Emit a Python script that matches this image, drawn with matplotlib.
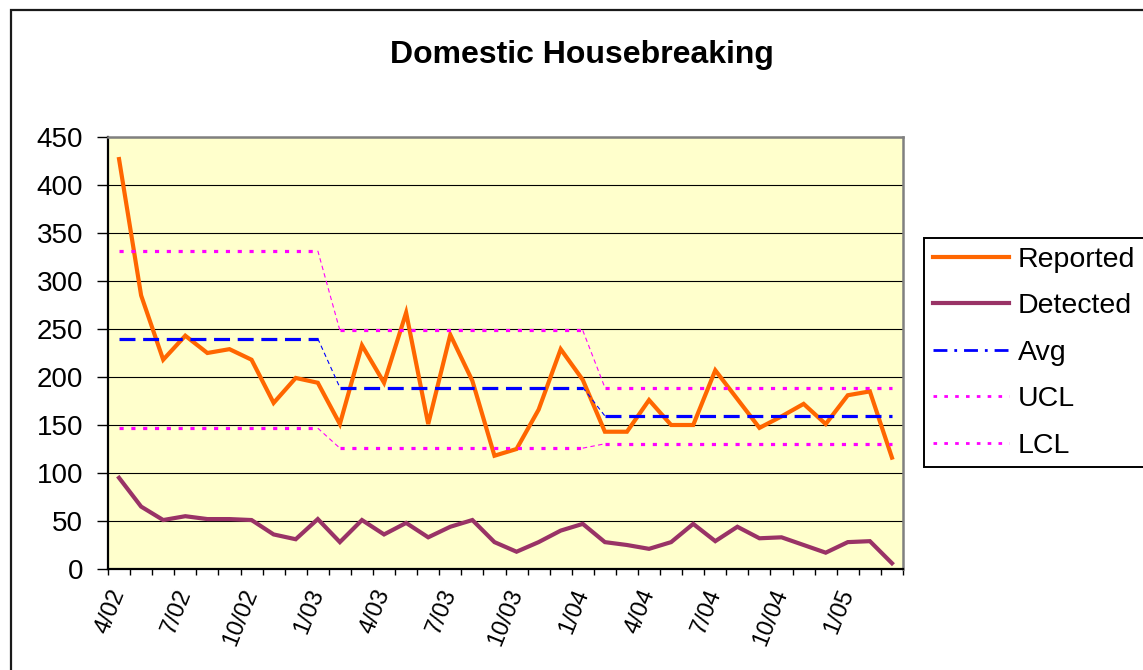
import numpy as np
import matplotlib
matplotlib.use("Agg")
import matplotlib.pyplot as plt
from matplotlib.lines import Line2D
from matplotlib.patches import Rectangle

plt.rcParams['font.family'] = ['Liberation Sans', 'DejaVu Sans']

# ---------------- data ----------------
tick_labels = ["4/02", "7/02", "10/02", "1/03", "4/03", "7/03", "10/03",
               "1/04", "4/04", "7/04", "10/04", "1/05"]
reported = [427, 285, 218, 243, 225, 229, 218, 173, 199, 194,
            151, 233, 194, 267, 151, 244, 196, 118, 125, 166, 229, 197,
            143, 143, 176, 150, 150, 207, 177, 147, 159, 172, 151, 181, 185, 116]
detected = [95, 65, 51, 55, 52, 52, 51, 36, 31, 52,
            28, 51, 36, 48, 33, 44, 51, 28, 18, 28, 40, 47,
            28, 25, 21, 28, 47, 29, 44, 32, 33, 25, 17, 28, 29, 6]
avg = [240, 240, 240, 240, 240, 240, 240, 240, 240, 240,
       189, 189, 189, 189, 189, 189, 189, 189, 189, 189, 189, 189,
       159.5, 159.5, 159.5, 159.5, 159.5, 159.5, 159.5, 159.5, 159.5, 159.5,
       159.5, 159.5, 159.5, 159.5]
ucl = [331.5, 331.5, 331.5, 331.5, 331.5, 331.5, 331.5, 331.5, 331.5, 331.5,
       248.5, 248.5, 248.5, 248.5, 248.5, 248.5, 248.5, 248.5, 248.5, 248.5,
       248.5, 248.5,
       189, 189, 189, 189, 189, 189, 189, 189, 189, 189, 189, 189, 189, 189]
lcl = [146.7, 146.7, 146.7, 146.7, 146.7, 146.7, 146.7, 146.7, 146.7, 146.7,
       125.9, 125.9, 125.9, 125.9, 125.9, 125.9, 125.9, 125.9, 125.9, 125.9,
       125.9, 125.9,
       130.4, 130.4, 130.4, 130.4, 130.4, 130.4, 130.4, 130.4, 130.4, 130.4,
       130.4, 130.4, 130.4, 130.4]

W, H = 1143, 670
fig = plt.figure(figsize=(W / 100, H / 100), dpi=100)
fig.patch.set_facecolor('white')

# chart-area border
fig.add_artist(Rectangle((11 / W, -0.2), 2.0, 1.2 - 10 / H, transform=fig.transFigure,
                         fill=False, edgecolor='#1a1a1a', linewidth=1.6, zorder=0))

L, R, T, B = 108, 903, 137, 569
ax = fig.add_axes([L / W, 1 - B / H, (R - L) / W, (B - T) / H])
ax.set_facecolor('#FFFFCC')

x = np.arange(len(reported))

ORANGE = '#FF6600'
PLUM = '#993366'
BLUE = '#0000FF'
MAG = '#FF00FF'


def control_line(vals, color, lw, dashes, z):
    v = np.asarray(vals, dtype=float)
    splits = np.flatnonzero(np.diff(v) != 0) + 1
    # thin connectors only at level changes
    for s in splits:
        ax.plot(x[s - 1:s + 1], v[s - 1:s + 1], color=color, lw=0.8,
                dashes=(4, 3), zorder=z)
    # thick level segments
    for idx in np.split(x, splits):
        ax.plot(idx, v[idx], color=color, lw=lw, dashes=dashes, zorder=z,
                solid_capstyle='butt', dash_capstyle='butt')


ax.plot(x, reported, color=ORANGE, lw=3.0, zorder=4, solid_joinstyle='miter')
ax.plot(x, detected, color=PLUM, lw=3.0, zorder=4, solid_joinstyle='miter')
control_line(avg, BLUE, 2.3, (5, 2.4), 5)
control_line(ucl, MAG, 2.3, (1.3, 2.4), 5)
control_line(lcl, MAG, 2.3, (1.3, 2.4), 5)

ax.set_xlim(-0.5, len(reported) - 0.5)
ax.set_ylim(0, 450)
ax.set_yticks(np.arange(0, 451, 50))
ax.yaxis.grid(True, color='black', lw=0.8, zorder=1)
ax.set_axisbelow(True)

ax.set_xticks(np.arange(0, len(reported), 3))
ax.set_xticklabels(tick_labels, rotation=68, ha='right', va='center',
                   rotation_mode='anchor', fontsize=17)
ax.set_xticks(np.arange(-0.5, len(reported), 1), minor=True)
ax.tick_params(axis='x', which='major', length=0, pad=15)
ax.tick_params(axis='x', which='minor', length=4, width=1, direction='out', color='black')
ax.tick_params(axis='y', which='major', length=8, width=1, direction='out',
               labelsize=20, pad=10, color='black')

for s in ['left', 'bottom']:
    ax.spines[s].set_color('black')
    ax.spines[s].set_linewidth(1.6)
for s in ['top', 'right']:
    ax.spines[s].set_color('#808080')
    ax.spines[s].set_linewidth(1.8)

fig.text(582 / W, 1 - 55 / H, "Domestic Housebreaking", ha='center', va='center',
         fontsize=23, fontweight='bold')

handles = [
    Line2D([], [], color=ORANGE, lw=3.0),
    Line2D([], [], color=PLUM, lw=3.0),
    Line2D([], [], color=BLUE, lw=2.0, dashes=(5, 2.5, 1, 2.5)),
    Line2D([], [], color=MAG, lw=2.0, dashes=(1.3, 2.6)),
    Line2D([], [], color=MAG, lw=2.0, dashes=(1.3, 2.6)),
]
leg = fig.legend(handles, ["Reported", "Detected", "Avg", "UCL", "LCL"],
                 loc='upper left', bbox_to_anchor=(924 / W, 1 - 238 / H),
                 bbox_transform=fig.transFigure, borderaxespad=0,
                 fontsize=20.5, handlelength=2.7, handletextpad=0.3,
                 labelspacing=0.72, borderpad=0.3, fancybox=False,
                 framealpha=1, edgecolor='black')
leg.get_frame().set_linewidth(1.4)

fig.savefig('out.png', dpi=100)
